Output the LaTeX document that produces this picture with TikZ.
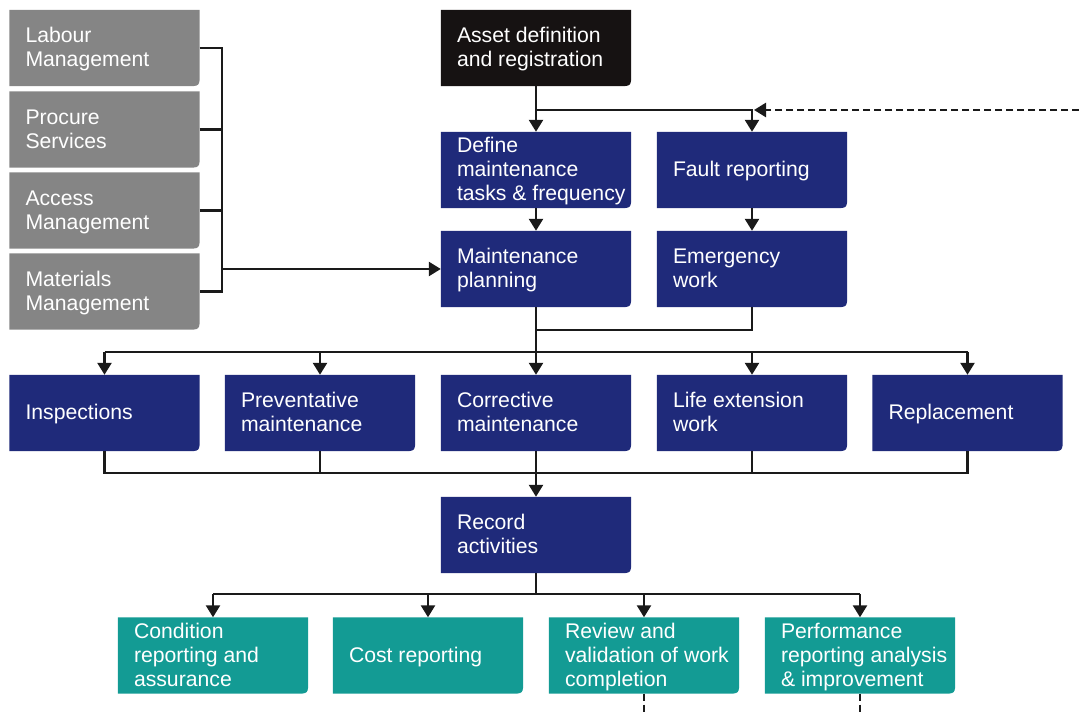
\documentclass[tikz,border=0pt]{standalone}
\usepackage{fontspec}
\setmainfont{Liberation Sans}
\usetikzlibrary{arrows.meta,backgrounds}
\definecolor{navy}{HTML}{1F2A7A}
\definecolor{teal}{HTML}{139B94}
\definecolor{greybox}{HTML}{858585}
\definecolor{blackbox}{HTML}{161212}
\definecolor{ink}{HTML}{1A1A1A}
\tikzset{
  box/.style={inner xsep=16pt, inner ysep=0pt, minimum height=76pt,
    text=white, font=\fontsize{21.2}{24}\selectfont},
  conn/.style={draw=ink, line width=2.5pt},
  arr/.style={conn, -{Triangle[length=12pt,width=14pt]}},
  dashln/.style={dash pattern=on 7pt off 4pt}
}
\newcommand\mybox[5]{%
  \node[box] (#1) at (#2,#3) {\makebox[158pt][l]{\raisebox{-2pt}[\height][\depth]{\begin{tabular}{@{}l@{}}#5\end{tabular}}}};
  \begin{scope}[on background layer]
    \fill[#4] (#1.south west) -- (#1.north west) -- (#1.north east)
      -- ([yshift=13pt]#1.south east) .. controls (#1.south east) .. ([xshift=-13pt]#1.south east)
      -- cycle;
  \end{scope}}
\begin{document}
\begin{tikzpicture}[x=1pt,y=1pt]
\useasboundingbox (0,0) rectangle (1079,714);
% grey boxes
\mybox{lab}{104.5}{666}{greybox}{Labour\\Management}
\mybox{pro}{104.5}{584.5}{greybox}{Procure\\Services}
\mybox{acc}{104.5}{503.5}{greybox}{Access\\Management}
\mybox{mat}{104.5}{422.5}{greybox}{Materials\\Management}
% top
\mybox{asset}{536}{666}{blackbox}{Asset definition\\and registration}
\mybox{def}{536}{544}{navy}{Define\\maintenance\\tasks \& frequency}
\mybox{fault}{752}{544}{navy}{Fault reporting}
\mybox{plan}{536}{445}{navy}{Maintenance\\planning}
\mybox{emer}{752}{445}{navy}{Emergency\\work}
% row 3
\mybox{ins}{104.5}{301}{navy}{Inspections}
\mybox{pre}{320}{301}{navy}{Preventative\\maintenance}
\mybox{cor}{536}{301}{navy}{Corrective\\maintenance}
\mybox{lif}{752}{301}{navy}{Life extension\\work}
\mybox{rep}{967.5}{301}{navy}{Replacement}
% record
\mybox{rec}{536}{179}{navy}{Record\\activities}
% row 5
\mybox{con}{213}{58.5}{teal}{Condition\\reporting and\\assurance}
\mybox{cost}{428}{58.5}{teal}{Cost reporting}
\mybox{rev}{644}{58.5}{teal}{Review and\\validation of work\\completion}
\mybox{per}{860}{58.5}{teal}{Performance\\reporting analysis\\\& improvement}
% helper coordinates
\coordinate (brx) at (222,0);
\coordinate (j1) at (0,604);
\coordinate (dashend) at (1079,604);
\coordinate (j2) at (0,384);
\coordinate (h1) at (0,362);
\coordinate (h2) at (0,241);
\coordinate (h3) at (0,120);
\coordinate (bot) at (0,0);
% bracket from grey boxes
\draw[conn] (lab.east) -- (lab.east -| brx) -- (mat.east -| brx) -- (mat.east);
\draw[conn] (pro.east) -- (pro.east -| brx);
\draw[conn] (acc.east) -- (acc.east -| brx);
\draw[arr] (plan.west -| brx) -- (plan.west);
% asset
\draw[arr] (asset.south) -- (def.north);
\draw[arr] (asset.south |- j1) -| (fault.north);
\draw[arr, dashln] (dashend) -- ([xshift=2pt]fault.north |- j1);
\draw[arr] (def.south) -- (plan.north);
\draw[arr] (fault.south) -- (emer.north);
% to row 3
\draw[arr] (plan.south) -- (cor.north);
\draw[conn] (emer.south) -- (emer.south |- j2) -- (plan.south |- j2);
\draw[conn] (ins.north |- h1) -- (rep.north |- h1);
\draw[arr] (ins.north |- h1) -- (ins.north);
\draw[arr] (pre.north |- h1) -- (pre.north);
\draw[arr] (lif.north |- h1) -- (lif.north);
\draw[arr] (rep.north |- h1) -- (rep.north);
% row 3 to record
\draw[conn] (ins.south) -- (ins.south |- h2) -- (rep.south |- h2) -- (rep.south);
\draw[conn] (pre.south) -- (pre.south |- h2);
\draw[conn] (lif.south) -- (lif.south |- h2);
\draw[arr] (cor.south) -- (rec.north);
% record to row 5
\draw[conn] (rec.south) -- (rec.south |- h3);
\draw[conn] (con.north |- h3) -- (per.north |- h3);
\draw[arr] (con.north |- h3) -- (con.north);
\draw[arr] (cost.north |- h3) -- (cost.north);
\draw[arr] (rev.north |- h3) -- (rev.north);
\draw[arr] (per.north |- h3) -- (per.north);
% dashed exits
\draw[conn, dashln] (rev.south) -- (rev.south |- bot);
\draw[conn, dashln] (per.south) -- (per.south |- bot);
\end{tikzpicture}
\end{document}
